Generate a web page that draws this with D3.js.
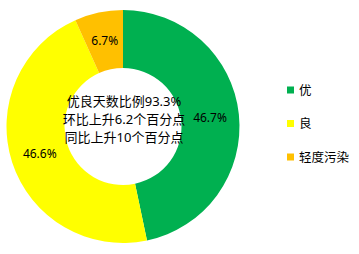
<!DOCTYPE html>
<html>
<head>
<meta charset="utf-8">
<script src="https://cdn.jsdelivr.net/npm/d3@7"></script>
<style>
  html, body { margin: 0; padding: 0; background: #fff; }
  svg { display: block; }
  text { font-family: "Noto Sans", "Noto Sans CJK SC", sans-serif; fill: #000; }
</style>
</head>
<body>
<svg id="chart" width="359" height="254"></svg>
<script>
// Air-quality day categories and their shares (%)
const categories = ["优", "良", "轻度污染"];
const shares = [46.7, 46.6, 6.7];
const colors = ["#00B050", "#FFFF00", "#FFC000"];
const valueLabels = ["46.7%", "46.6%", "6.7%"];
// Summary lines shown in the donut hole
const centerLines = ["优良天数比例93.3%", "环比上升6.2个百分点", "同比上升10个百分点"];

const svg = d3.select("#chart");
const cx = 123, cy = 126.5;
const outerR = 116.5, innerR = 58.5;

const data = categories.map((c, i) => ({ name: c, value: shares[i], color: colors[i], label: valueLabels[i] }));

const pie = d3.pie().value(d => d.value).sort(null);
const arcs = pie(data);
const arc = d3.arc().innerRadius(innerR).outerRadius(outerR);
const labelArc = d3.arc().innerRadius((innerR + outerR) / 2).outerRadius((innerR + outerR) / 2);

const g = svg.append("g").attr("transform", `translate(${cx},${cy})`);

g.selectAll("path.slice")
  .data(arcs)
  .join("path")
  .attr("class", "slice")
  .attr("d", arc)
  .attr("fill", d => d.data.color);

g.selectAll("text.val")
  .data(arcs)
  .join("text")
  .attr("class", "val")
  .attr("transform", d => `translate(${labelArc.centroid(d)})`)
  .attr("text-anchor", "middle")
  .attr("dominant-baseline", "central")
  .style("font-size", "12px")
  .text(d => d.data.label);

// Center summary text
const lineGap = 18;
g.selectAll("text.center")
  .data(centerLines)
  .join("text")
  .attr("class", "center")
  .attr("x", 1)
  .attr("y", (d, i) => (i - 1) * lineGap - 8)
  .attr("text-anchor", "middle")
  .attr("dominant-baseline", "central")
  .style("font-size", "13px")
  .text(d => d);

// Legend
const legendY = d3.scalePoint().domain(categories).range([90, 157]);
const legend = svg.append("g");
const items = legend.selectAll("g.item")
  .data(data)
  .join("g")
  .attr("class", "item")
  .attr("transform", d => `translate(287,${legendY(d.name)})`);
items.append("rect")
  .attr("x", 0).attr("y", -3.5)
  .attr("width", 7).attr("height", 7)
  .attr("fill", d => d.color);
items.append("text")
  .attr("x", 12).attr("y", 0)
  .attr("dominant-baseline", "central")
  .style("font-size", "12.5px")
  .text(d => d.name);
</script>
</body>
</html>
